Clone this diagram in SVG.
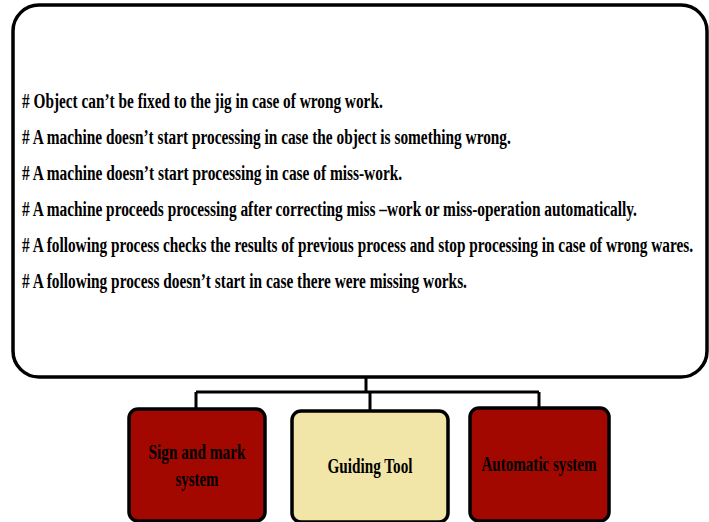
<svg xmlns="http://www.w3.org/2000/svg" width="709" height="522" viewBox="0 0 709 522">
<style>
.t{font-family:"Liberation Serif","Times New Roman",serif;font-weight:bold;font-size:21px;fill:#000}
.b{font-family:"Liberation Serif","Times New Roman",serif;font-weight:bold;font-size:21px;fill:#000;text-anchor:middle}
.red{fill:#a30800;stroke:#000;stroke-width:3.5}
.bei{fill:#f1e6a7;stroke:#000;stroke-width:3.5}
.c{fill:none;stroke:#000;stroke-width:3}
</style>
<rect width="709" height="522" fill="#fff"/>
<g id="main">
<rect x="13" y="5" width="694" height="372" rx="26" ry="26" fill="#fff" stroke="#000" stroke-width="3.5"/>
<g transform="scale(0.72,1)">
<text class="t" x="30.56" y="108" textLength="501" lengthAdjust="spacingAndGlyphs"># Object can’t be fixed to the jig in case of wrong work.</text>
<text class="t" x="30.56" y="144" textLength="679" lengthAdjust="spacingAndGlyphs"># A machine doesn’t start processing in case the object is something wrong.</text>
<text class="t" x="30.56" y="180" textLength="528" lengthAdjust="spacingAndGlyphs"># A machine doesn’t start processing in case of miss-work.</text>
<text class="t" x="30.56" y="216" textLength="854" lengthAdjust="spacingAndGlyphs"># A machine proceeds processing after correcting miss –work or miss-operation automatically.</text>
<text class="t" x="30.56" y="252" textLength="932" lengthAdjust="spacingAndGlyphs"># A following process checks the results of previous process and stop processing in case of wrong wares.</text>
<text class="t" x="30.56" y="288" textLength="618" lengthAdjust="spacingAndGlyphs"># A following process doesn’t start in case there were missing works.</text>
</g>
</g>
<g id="connectors">
<path class="c" d="M366 377 V392 M196 392 H539 M196 392 V409 M370 392 V411 M539 392 V407"/>
</g>
<g id="sign">
<rect class="red" x="129" y="409" width="136" height="112" rx="9"/>
<text class="b" x="197" y="459" textLength="97" lengthAdjust="spacingAndGlyphs">Sign and mark</text>
<text class="b" x="197" y="486" textLength="43" lengthAdjust="spacingAndGlyphs">system</text>
</g>
<g id="guiding">
<rect class="bei" x="292" y="411" width="156" height="111" rx="9"/>
<text class="b" x="370" y="473" textLength="85" lengthAdjust="spacingAndGlyphs">Guiding Tool</text>
</g>
<g id="automatic">
<rect class="red" x="470" y="408" width="139" height="113" rx="9"/>
<text class="b" x="539" y="471" textLength="115" lengthAdjust="spacingAndGlyphs">Automatic system</text>
</g>
</svg>
